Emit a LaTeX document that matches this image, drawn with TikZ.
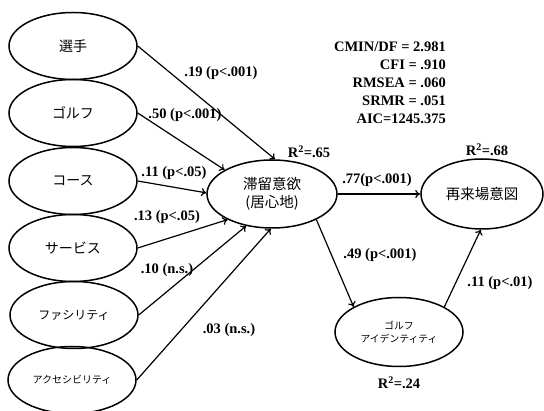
\documentclass[tikz,border=0pt]{standalone}
\usepackage{fontspec}
\setmainfont{Liberation Serif}
\newfontfamily\jp{Noto Sans CJK JP}
\usetikzlibrary{shapes.geometric,arrows.meta}
\begin{document}
\begin{tikzpicture}[x=1pt,y=-1pt,
  lat/.style={ellipse,draw,line width=1.5pt,inner sep=0pt,minimum width=128pt,minimum height=67pt,font=\jp\fontsize{14}{16}\selectfont,align=center},
  path/.style={line width=1.2pt,-{To[length=5pt,width=8pt]}},
  coef/.style={font=\bfseries\fontsize{14.5}{16}\selectfont,inner sep=0pt}]
\useasboundingbox (0,0) rectangle (544,411);
% exogenous
\node[lat] (sen) at (73,46) {選手};
\node[lat] (gol) at (73,113) {ゴルフ};
\node[lat] (cou) at (73,181) {コース};
\node[lat] (ser) at (73,248) {サービス};
\node[lat,font=\jp\fontsize{12}{14}\selectfont] (fac) at (74,315) {ファシリティ};
\node[lat,font=\jp\fontsize{10}{12}\selectfont] (acc) at (72,380) {アクセシビリティ};
% endogenous
\node[lat,minimum width=130pt,minimum height=68pt,font=\jp\fontsize{14.5}{18}\selectfont] (stay) at (272,194) {滞留意欲\\(居心地)};
\node[lat,minimum width=122pt,minimum height=70pt,font=\jp\fontsize{14.5}{16}\selectfont] (rev) at (482,194) {再来場意図};
\node[lat,minimum height=69pt,font=\jp\fontsize{9.8}{13}\selectfont] (gid) at (399,332) {ゴルフ\\アイデンティティ};
% paths
\draw[path] (sen.east) -- (stay.85);
\draw[path] (gol.east) -- (stay.153);
\draw[path] (cou.east) -- (stay.179);
\draw[path] (ser.east) -- (stay.210);
\draw[path] (fac.east) -- (stay.231);
\draw[path] (acc.east) -- (stay.268);
\draw[path] (stay.east) -- (rev.west);
\draw[path] (stay.330) -- (gid.151);
\draw[path] (gid.29) -- (rev.268);
% coefficients
\node[coef] (c1) at (221,73) {.19 (p<.001)};
\node[coef] (c2) at (185,115) {.50 (p<.001)};
\node[coef] (c3) at (174,173) {.11 (p<.05)};
\node[coef] (c4) at (167,217) {.13 (p<.05)};
\node[coef] (c5) at (167,270) {.10 (n.s.)};
\node[coef] (c6) at (229,330) {.03 (n.s.)};
\node[coef] (c7) at (377,180) {.77(p<.001)};
\node[coef] (c8) at (380,255) {.49 (p<.001)};
\node[coef] (c9) at (500,283) {.11 (p<.01)};
\node[coef] (r1) at (309,152) {R\textsuperscript{2}=.65};
\node[coef] (r2) at (487,150) {R\textsuperscript{2}=.68};
\node[coef] (r3) at (399,383) {R\textsuperscript{2}=.24};
\node[coef,align=right,anchor=east,font=\bfseries\fontsize{14.5}{18}\selectfont] (fit) at (446,83) {CMIN/DF = 2.981\\CFI = .910\\RMSEA = .060\\SRMR = .051\\AIC=1245.375};
\end{tikzpicture}
\end{document}
